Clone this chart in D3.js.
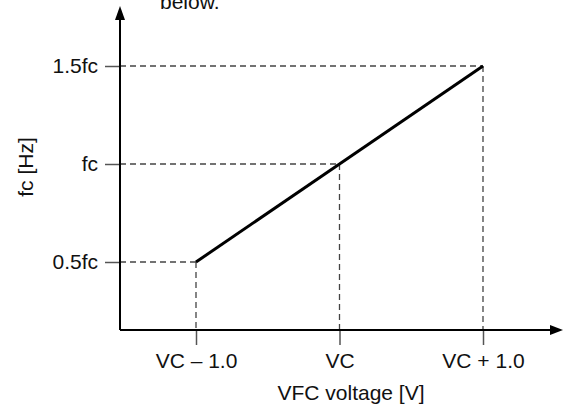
<!DOCTYPE html>
<html><head><meta charset="utf-8">
<script src="https://cdn.jsdelivr.net/npm/d3@7"></script>
<style>body{margin:0;background:#fff}svg{display:block}text{font-family:"Liberation Sans",Arial,sans-serif;font-size:21px;fill:#111}</style>
</head><body>
<script>
const xValues = [-1, 0, 1];
const xLabels = ["VC \u2013 1.0", "VC", "VC + 1.0"];
const yValues = [0.5, 1, 1.5];
const yLabels = ["0.5fc", "fc", "1.5fc"];
const xTitle = "VFC voltage [V]";
const yTitle = "fc [Hz]";
const caption = "below.";

const W = 566, H = 406;
const svg = d3.select("body").append("svg").attr("width", W).attr("height", H);
const ox = 120, oy = 330;
const x = d3.scaleLinear().domain([-1, 1]).range([196, 483]);
const y = d3.scaleLinear().domain([0.5, 1.5]).range([262, 66]);

svg.append("text").attr("x", 160).attr("y", 9).attr("font-size", 24).text(caption);

const dash = "6,4";
// guide lines
xValues.forEach((xv, i) => {
  const yv = yValues[i];
  svg.append("line").attr("x1", ox).attr("x2", x(xv)).attr("y1", y(yv)).attr("y2", y(yv))
    .attr("stroke", "#444").attr("stroke-width", 1.3).attr("stroke-dasharray", dash);
  svg.append("line").attr("x1", x(xv)).attr("x2", x(xv)).attr("y1", y(yv)).attr("y2", oy)
    .attr("stroke", "#444").attr("stroke-width", 1.3).attr("stroke-dasharray", dash);
});

const font = "Liberation Sans, Arial, sans-serif";
// ticks
const yAxis = d3.axisLeft(y).tickValues(yValues).tickFormat((d, i) => yLabels[i]).tickSize(15).tickPadding(7);
const gy = svg.append("g").attr("transform", `translate(${ox},0)`).call(yAxis);
gy.select(".domain").remove();
gy.selectAll("line").attr("stroke", "#555").attr("stroke-width", 1.5);
gy.selectAll("text").attr("font-size", 21).attr("fill", "#111").attr("font-family", font);

const xAxis = d3.axisBottom(x).tickValues(xValues).tickFormat((d, i) => xLabels[i]).tickSize(15).tickPadding(8);
const gx = svg.append("g").attr("transform", `translate(0,${oy})`).call(xAxis);
gx.select(".domain").remove();
gx.selectAll("line").attr("stroke", "#555").attr("stroke-width", 1.5);
gx.selectAll("text").attr("font-size", 21).attr("fill", "#111").attr("font-family", font);

// axes with arrows
svg.append("line").attr("x1", ox).attr("y1", oy).attr("x2", ox).attr("y2", 18).attr("stroke", "#000").attr("stroke-width", 2);
svg.append("path").attr("d", `M${ox},6 L${ox-5},20 L${ox+5},20 Z`).attr("fill", "#000");
svg.append("line").attr("x1", ox).attr("y1", oy).attr("x2", 553).attr("y2", oy).attr("stroke", "#000").attr("stroke-width", 2);
svg.append("path").attr("d", `M563,${oy} L550,${oy-5} L550,${oy+5} Z`).attr("fill", "#000");

// line
const line = d3.line().x(d => x(d[0])).y(d => y(d[1]));
svg.append("path").datum(xValues.map((v, i) => [v, yValues[i]]))
  .attr("d", line).attr("fill", "none").attr("stroke", "#000").attr("stroke-width", 3);

// titles
svg.append("text").attr("x", 351).attr("y", 400).attr("text-anchor", "middle").text(xTitle);
svg.append("text").attr("transform", "translate(33,167) rotate(-90)").attr("text-anchor", "middle").text(yTitle);
</script>
</body></html>
